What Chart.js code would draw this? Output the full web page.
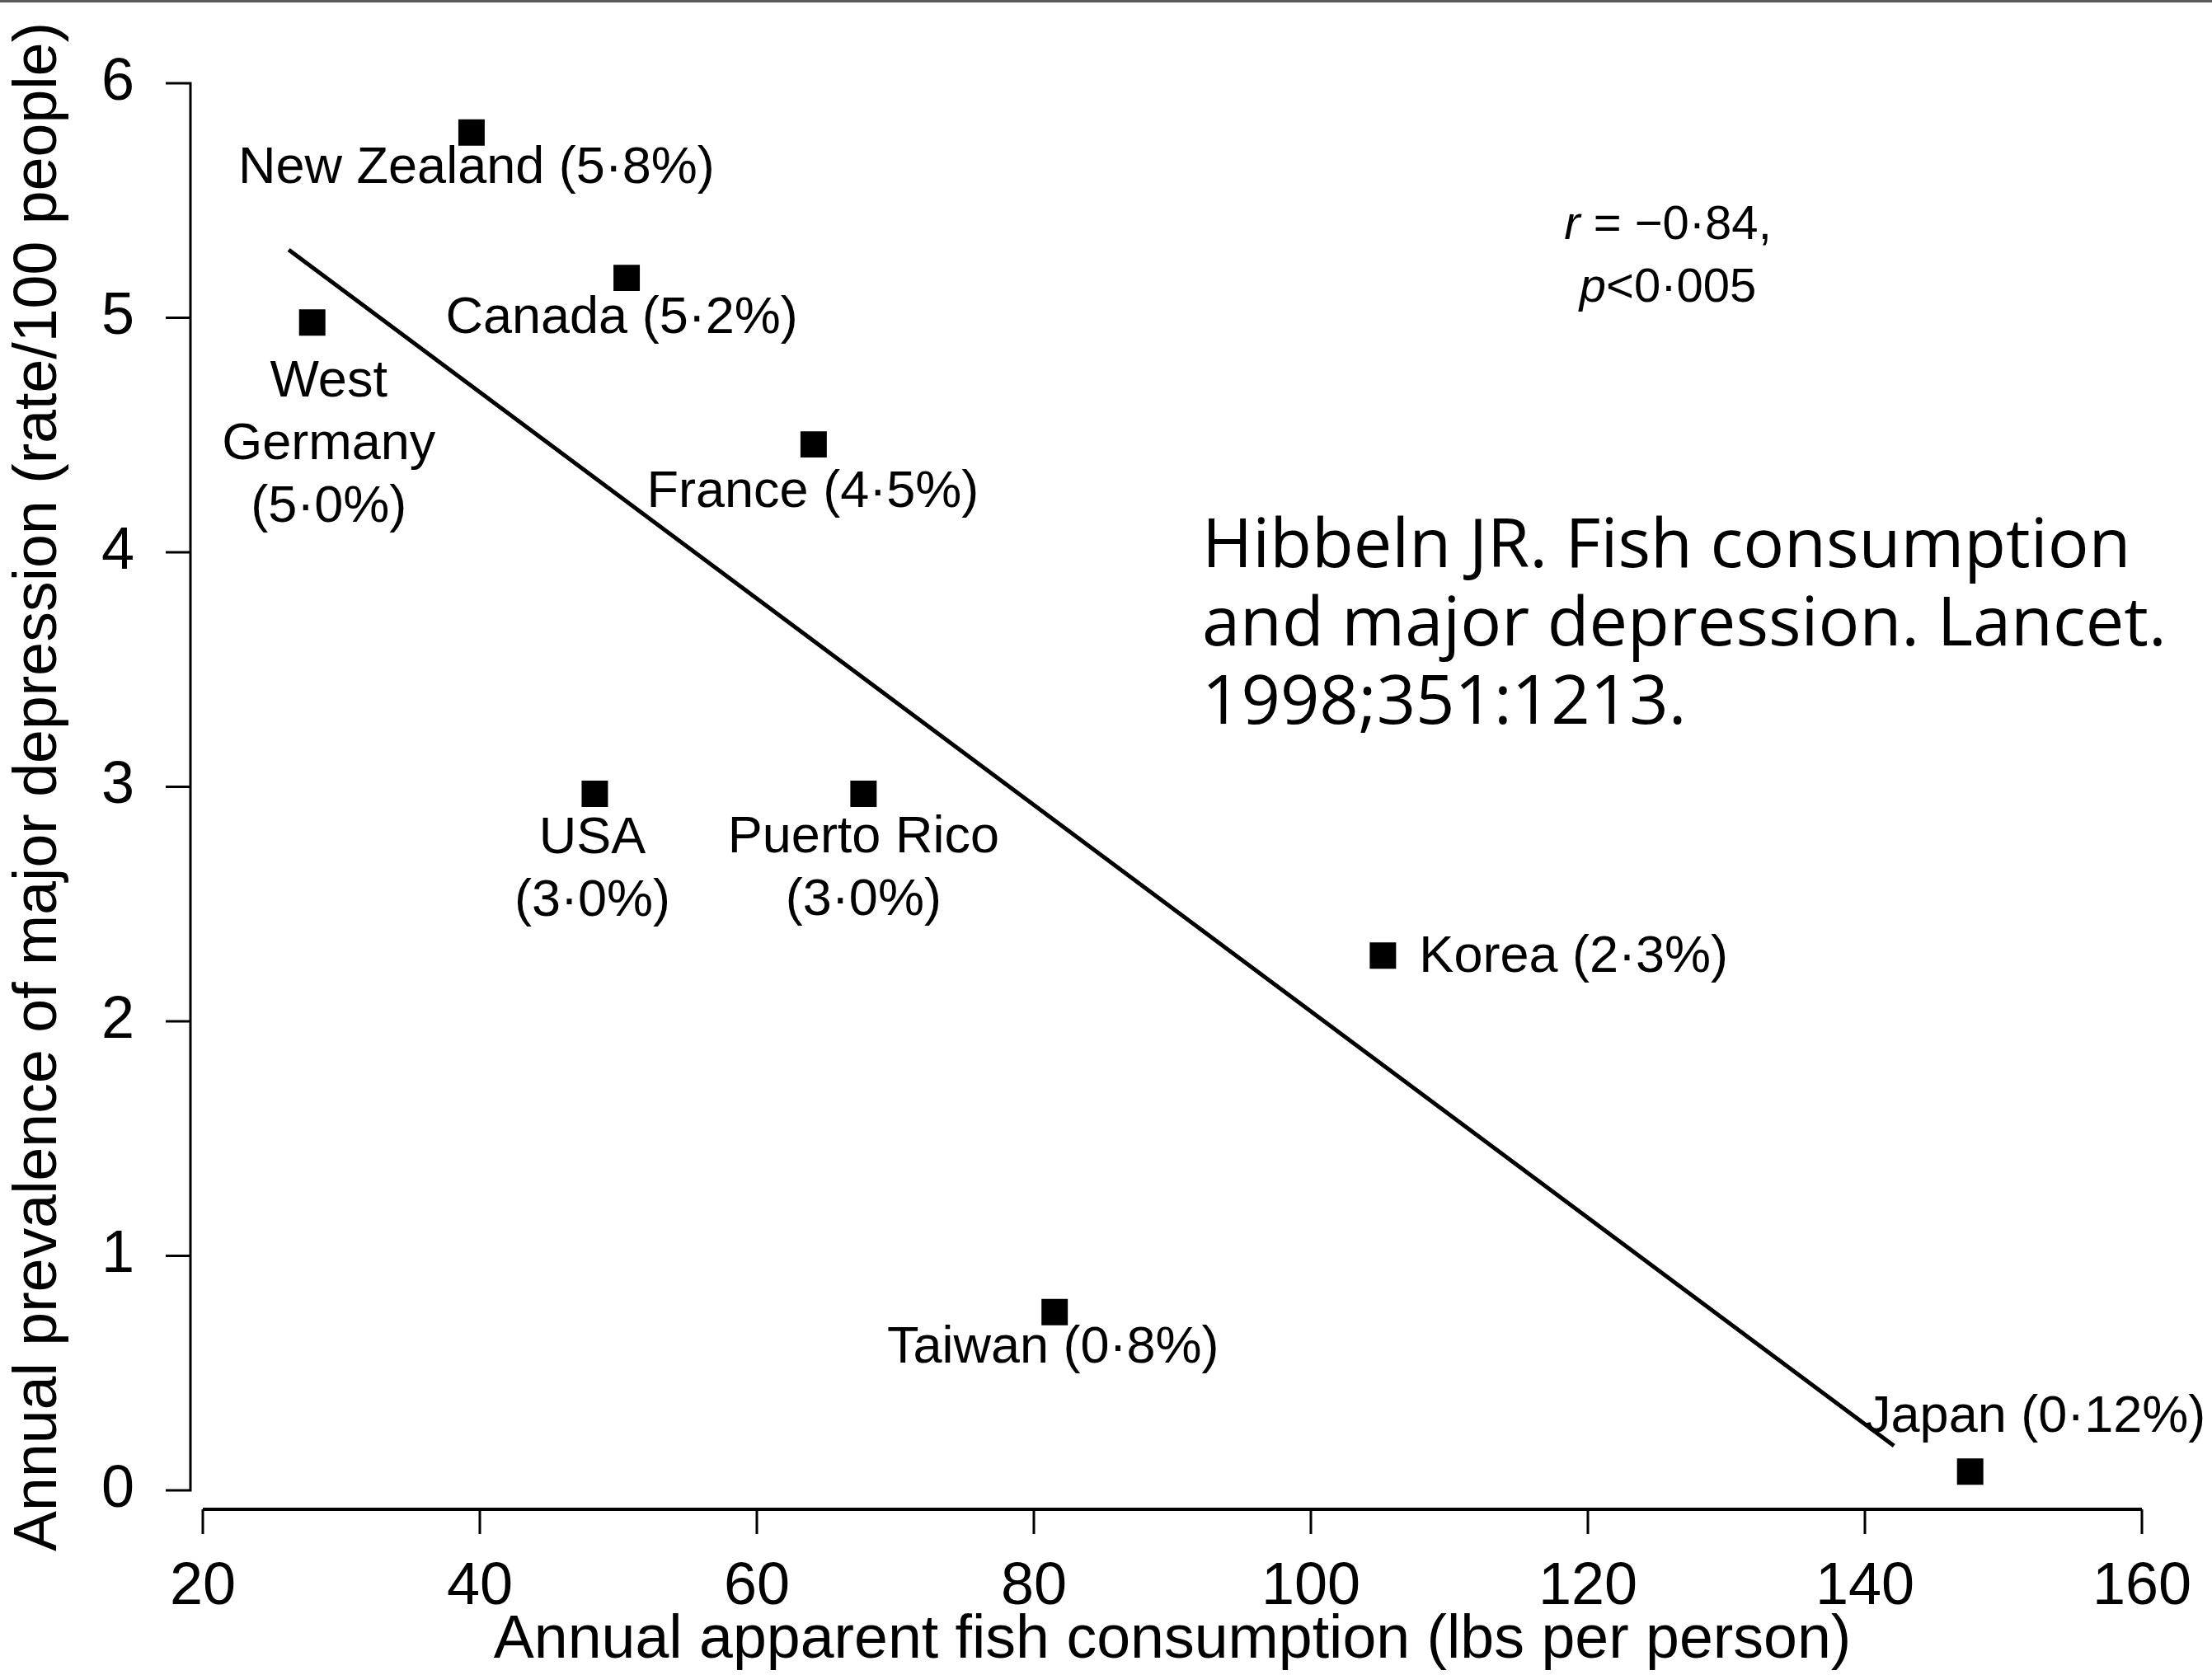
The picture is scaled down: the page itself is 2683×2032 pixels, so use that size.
<!DOCTYPE html>
<html>
<head>
<meta charset="utf-8">
<script src="https://cdn.jsdelivr.net/npm/chart.js@4.4.1/dist/chart.umd.min.js"></script>
<style>
  html, body { margin: 0; padding: 0; background: #fff; overflow: hidden; }
  canvas { display: block; }
</style>
</head>
<body>
<canvas id="fishChart" width="2683" height="2032"></canvas>
<script>
// Data
const countries = ["New Zealand", "Canada", "West Germany", "France", "USA", "Puerto Rico", "Korea", "Taiwan", "Japan"];
const fishLbs = [39.4, 50.6, 27.9, 64.1, 48.3, 67.7, 105.2, 81.5, 147.6];
const depressionRate = [5.79, 5.17, 4.98, 4.46, 2.97, 2.97, 2.28, 0.76, 0.08];
const pointLabels = [
  ["New Zealand (5·8%)"],
  ["Canada (5·2%)"],
  ["West", "Germany", "(5·0%)"],
  ["France (4·5%)"],
  ["USA", "(3·0%)"],
  ["Puerto Rico", "(3·0%)"],
  ["Korea (2·3%)"],
  ["Taiwan (0·8%)"],
  ["Japan (0·12%)"]
];
// regression line end points
const fitX = [26.2, 142.1];
const fitY = [5.29, 0.19];
const xTicks = [20, 40, 60, 80, 100, 120, 140, 160];
const yTicks = [0, 1, 2, 3, 4, 5, 6];
const statLines = [["r", " = −0·84,"], ["p", "<0·005"]];
const citation = ["Hibbeln JR. Fish consumption", "and major depression. Lancet.", "1998;351:1213."];

// label placement (pixel offsets from the marker, text centre)
const labelOffsets = [[6, 44], [-6, 49], [20, 72], [-1, 58], [-3, 55], [0, 54], [44, 2], [-2, 44], [79, -66]];
const labelAlign = ["center", "center", "center", "center", "center", "center", "left", "center", "center"];

const FONT = "'Liberation Sans', Arial, sans-serif";

const decorations = {
  id: "decorations",
  beforeDraw(chart) {
    const ctx = chart.ctx;
    ctx.save();
    ctx.fillStyle = "#fff";
    ctx.fillRect(0, 0, chart.width, chart.height);
    ctx.fillStyle = "#595959";
    ctx.fillRect(0, 0, chart.width, 3);
    ctx.restore();
  },
  afterDraw(chart) {
    const ctx = chart.ctx;
    const xs = chart.scales.x, ys = chart.scales.y;
    ctx.save();
    ctx.strokeStyle = "#000";
    ctx.lineCap = "butt";

    // y axis, set off to the left of the plot
    const ax = xs.left - 15;
    ctx.lineWidth = 3;
    ctx.beginPath();
    ctx.moveTo(ax, ys.getPixelForValue(6));
    ctx.lineTo(ax, ys.getPixelForValue(0));
    yTicks.forEach(v => {
      const py = ys.getPixelForValue(v);
      ctx.moveTo(ax + 1.5, py);
      ctx.lineTo(ax - 30, py);
    });
    ctx.stroke();

    // x axis, set off below the plot
    const ay = ys.bottom + 23;
    ctx.lineWidth = 4;
    ctx.beginPath();
    ctx.moveTo(xs.getPixelForValue(20), ay);
    ctx.lineTo(xs.getPixelForValue(160), ay);
    ctx.stroke();
    ctx.lineWidth = 3;
    ctx.beginPath();
    xTicks.forEach(v => {
      const px = xs.getPixelForValue(v);
      ctx.moveTo(px, ay);
      ctx.lineTo(px, ay + 30);
    });
    ctx.stroke();

    // point labels
    ctx.fillStyle = "#000";
    ctx.font = "63px " + FONT;
    ctx.textBaseline = "middle";
    pointLabels.forEach((lines, i) => {
      const px = xs.getPixelForValue(fishLbs[i]) + labelOffsets[i][0];
      const py = ys.getPixelForValue(depressionRate[i]) + labelOffsets[i][1];
      ctx.textAlign = labelAlign[i];
      lines.forEach((t, k) => ctx.fillText(t, px, py + k * 76));
    });

    // r and p
    ctx.textAlign = "left";
    statLines.forEach((parts, k) => {
      ctx.font = "italic 58px " + FONT;
      const w1 = ctx.measureText(parts[0]).width;
      ctx.font = "58px " + FONT;
      const w2 = ctx.measureText(parts[1]).width;
      const x0 = 2023 - (w1 + w2) / 2;
      const y0 = 274 + k * 76;
      ctx.font = "italic 58px " + FONT;
      ctx.fillText(parts[0], x0, y0);
      ctx.font = "58px " + FONT;
      ctx.fillText(parts[1], x0 + w1, y0);
    });

    // citation
    ctx.font = "83px 'Open Sans', 'Noto Sans', sans-serif";
    ctx.textBaseline = "alphabetic";
    citation.forEach((t, k) => ctx.fillText(t, 1458, 688 + k * 95));
    ctx.restore();
  }
};

const points = fishLbs.map((x, i) => ({ x: x, y: depressionRate[i] }));
const fitLine = fitX.map((x, i) => ({ x: x, y: fitY[i] }));

new Chart(document.getElementById("fishChart"), {
  type: "scatter",
  data: {
    datasets: [
      {
        label: "Countries",
        data: points,
        pointStyle: "rect",
        pointRadius: 22.6,
        pointHoverRadius: 22.6,
        backgroundColor: "#000",
        borderWidth: 0
      },
      {
        type: "line",
        label: "Fit",
        data: fitLine,
        borderColor: "#000",
        borderWidth: 5,
        pointRadius: 0,
        fill: false
      }
    ]
  },
  options: {
    responsive: false,
    animation: false,
    devicePixelRatio: 1,
    layout: { padding: { top: 101, right: 85, left: 0, bottom: 0 } },
    plugins: { legend: { display: false }, tooltip: { enabled: false } },
    scales: {
      x: {
        type: "linear",
        min: 20,
        max: 160,
        grid: { display: false },
        border: { display: false },
        ticks: { stepSize: 20, color: "#000", padding: 67, font: { size: 72, family: FONT } },
        title: {
          display: true,
          text: "Annual apparent fish consumption (lbs per person)",
          color: "#000",
          font: { size: 73.5, family: FONT, lineHeight: 1.1 },
          padding: { top: 0, bottom: 1 }
        },
        afterFit(scale) {
          scale.height = 224;
          scale.paddingLeft = 0;
          scale.paddingRight = 0;
        }
      },
      y: {
        min: 0,
        max: 6,
        grid: { display: false },
        border: { display: false },
        ticks: { stepSize: 1, color: "#000", padding: 75, font: { size: 72, family: FONT } },
        title: {
          display: true,
          text: "Annual prevalence of major depression (rate/100 people)",
          color: "#000",
          font: { size: 73.5, family: FONT, lineHeight: 1.2 },
          padding: { top: 4, bottom: 0 }
        },
        afterFit(scale) {
          scale.width = 246;
          scale.paddingTop = 0;
          scale.paddingBottom = 0;
        }
      }
    }
  },
  plugins: [decorations]
});
</script>
</body>
</html>
